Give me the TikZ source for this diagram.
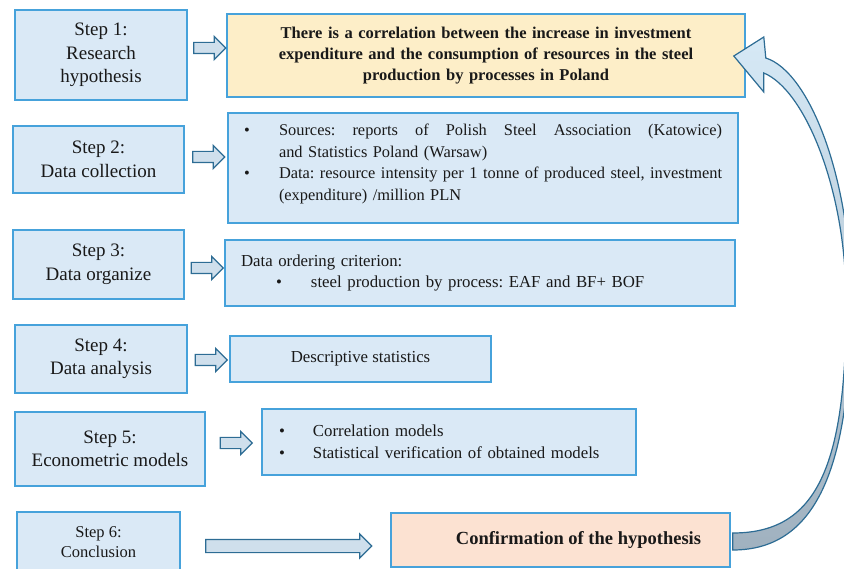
\documentclass[tikz,border=0pt]{standalone}
\usepackage{fontspec}
\setmainfont{Liberation Serif}
\usetikzlibrary{calc,shapes.arrows}
\definecolor{stepfill}{RGB}{218,233,246}
\definecolor{stepline}{RGB}{70,162,219}
\definecolor{hypfill}{RGB}{253,238,200}
\definecolor{conffill}{RGB}{252,226,210}
\definecolor{arrowline}{RGB}{45,108,148}
\definecolor{arrowfill}{RGB}{207,223,236}
\definecolor{curvelight}{RGB}{214,233,246}
\definecolor{curvedark}{RGB}{160,177,191}
\definecolor{textgray}{RGB}{25,25,25}
\frenchspacing

\begin{document}
\begin{tikzpicture}[x=1pt,y=-1pt,every node/.style={text=textgray},
	stepbox/.style={draw=stepline,line width=1.6pt,fill=stepfill,align=center,inner sep=0pt,font=\fontsize{19}{23.5}\selectfont},
	infobox/.style={draw=stepline,line width=1.6pt,fill=stepfill,inner sep=0pt,font=\fontsize{16.8}{21.5}\selectfont},
	blockarr/.style={single arrow,draw=arrowline,fill=arrowfill,line width=1.2pt,inner xsep=0pt,inner ysep=5pt,single arrow head extend=6pt,minimum height=32pt}]
	
	\useasboundingbox (0,0) rectangle (844,569);
	
	% steps
	\node[stepbox,minimum width=172,minimum height=90] (s1) at (101,55) {Step 1:\\Research\\hypothesis};
	\node[stepbox,minimum width=171,minimum height=67] (s2) at (98.5,159.5) {Step 2:\\Data collection};
	\node[stepbox,minimum width=171,minimum height=69] (s3) at (98.5,264.5) {Step 3:\\Data organize};
	\node[stepbox,minimum width=172,minimum height=68] (s4) at (101,359) {Step 4:\\Data analysis};
	\node[stepbox,minimum width=190,minimum height=74] (s5) at (110,449) {Step 5:\\Econometric models};
	\node[stepbox,minimum width=163,minimum height=60,font=\fontsize{16.5}{20}\selectfont] (s6) at (98.5,542) {Step 6:\\Conclusion};
	
	% contents
	\node[infobox,fill=hypfill,minimum width=518,minimum height=83,text width=500,align=center,font=\bfseries\fontsize{16.5}{21}\selectfont] (hyp) at (486,55.5)
		{There is a correlation between the increase in investment\\expenditure and the consumption of resources in the steel\\production by processes in Poland};
	\node[infobox,minimum width=510,minimum height=110,text width=478,align=left,font=\fontsize{16.4}{21.5}\selectfont] (data) at (483,168)
		{\makebox[35pt][l]{\textbullet}\makebox[443pt][l]{Sources:\hfill reports\hfill of\hfill Polish\hfill Steel\hfill Association\hfill (Katowice)}\\
		\hspace*{35pt}and Statistics Poland (Warsaw)\\
		\makebox[35pt][l]{\textbullet}\makebox[443pt][l]{Data: resource intensity per 1 tonne of produced steel, investment}\\
		\hspace*{35pt}(expenditure) /million PLN\vspace*{8pt}};
	\node[infobox,minimum width=510,minimum height=66,text width=478,align=left] (org) at (480,273)
		{Data ordering criterion:\\
		\hspace*{35pt}\makebox[35pt][l]{\textbullet}steel production by process: EAF and BF+ BOF};
	\node[infobox,minimum width=261,minimum height=46,align=center] (desc) at (360.5,359) {Descriptive statistics};
	\node[infobox,minimum width=374,minimum height=66,text width=340,align=left] (mod) at (449,442)
		{\makebox[34pt][l]{\textbullet}Correlation models\\
		\makebox[34pt][l]{\textbullet}Statistical verification of obtained models};
	\node[infobox,fill=conffill,minimum width=339,minimum height=54,font=\bfseries\fontsize{18.5}{22}\selectfont] (conf) at (560.5,540)
		{\hspace*{36pt}Confirmation of the hypothesis};
	
	% block arrows
	\foreach \a/\b/\s in {s1/hyp/7.25,s2/data/6.75,s3/org/0.75,s4/desc/-1,s5/mod/2.5}
		\node[blockarr,yshift=\s pt] (arr\a) at ($(\a.east)!0.5!(\b.west)$) {};
	\node[blockarr,yshift=-5pt,minimum height=166pt,inner ysep=6pt,single arrow head extend=5.5pt] (arrs6) at ($(s6.east)!0.5!(conf.west)$) {};
	
	% curved arrow back to the hypothesis
	\shadedraw[draw=arrowline,line width=1.2pt,top color=curvelight,middle color=curvelight,bottom color=curvedark]
		($(hyp.east)+(-12,0.5)$) -- ($(hyp.east)+(18,-18.5)$) -- ($(hyp.east)+(20,2.5)$)
		.. controls (810,72) and (851,180) .. (851,300)
		.. controls (851,460) and (820,550) .. ($(conf.east)+(2,10)$)
		-- ($(conf.east)+(2,-7)$)
		.. controls (815,533) and (847,470) .. (846,300)
		.. controls (846,190) and (805,90) .. ($(hyp.east)+(18,17.5)$)
		-- ($(hyp.east)+(18,36.5)$) -- cycle;
	
\end{tikzpicture}
\end{document}
